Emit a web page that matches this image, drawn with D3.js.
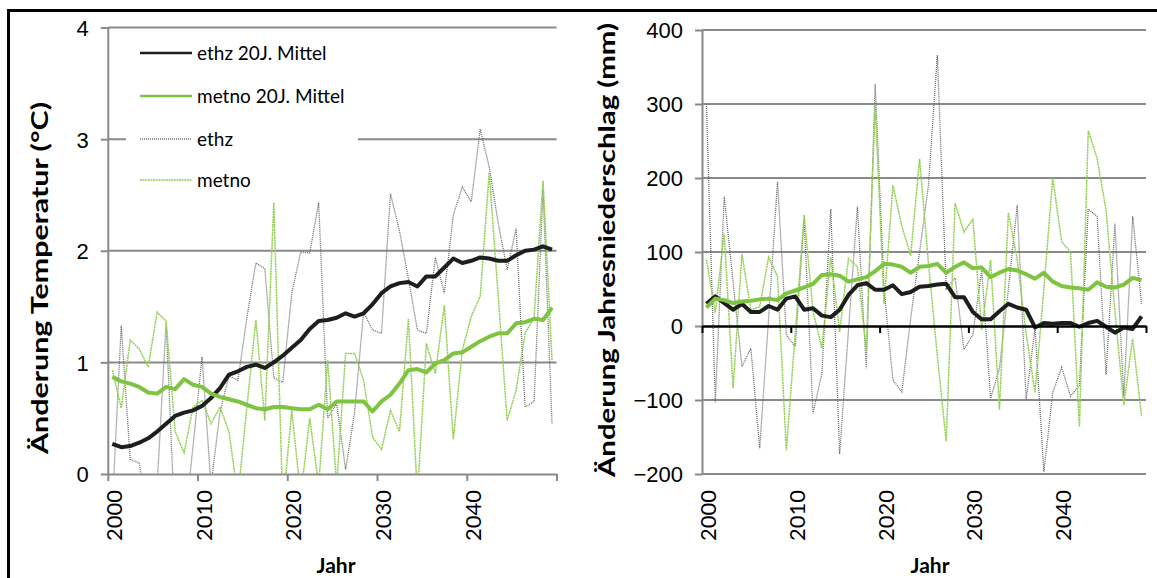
<!DOCTYPE html>
<html>
<head>
<meta charset="utf-8">
<script src="https://cdn.jsdelivr.net/npm/d3@7"></script>
<style>
  body { margin: 0; background: #fff; }
  svg { display: block; font-family: Lato, "Open Sans", sans-serif; }
</style>
</head>
<body>
<div id="chart"></div>
<script>
// categories
const years = d3.range(2000, 2050);
const yearTicks = [2000, 2010, 2020, 2030, 2040, 2050];
const yearLabels = [2000, 2010, 2020, 2030, 2040];
const tempTicks = [0, 1, 2, 3, 4];
const precTicks = [-200, -100, 0, 100, 200, 300, 400];
const seriesNames = ["ethz 20J. Mittel", "metno 20J. Mittel", "ethz", "metno"];

// temperature change (°C)
const tempEthz = [-0.3, 1.33, 0.13, 0.10, -0.4, -0.1, 1.36, -0.5, -0.5, 0.25,
  1.05, -0.1, 0.55, 0.88, 0.84, 1.4, 1.89, 1.84, 0.86, 0.82,
  1.62, 1.99, 1.98, 2.43, 0.5, 0.63, 0.04, 0.55, 1.45, 1.29,
  1.26, 2.51, 2.18, 1.75, 1.29, 1.26, 1.94, 1.62, 2.32, 2.57,
  2.44, 3.09, 2.75, 2.25, 1.83, 2.2, 0.6, 0.65, 2.55, 0.45];
const tempMetno = [0.93, 0.59, 1.2, 1.12, 0.96, 1.45, 1.37, 0.38, 0.19, 0.6,
  0.66, 0.45, 0.6, 0.38, -0.2, 0.6, 1.38, 0.48, 2.43, -0.3,
  0.57, -0.2, 0.5, -0.1, 1.02, -0.1, 1.08, 1.08, 0.84, 0.33,
  0.22, 0.57, 0.38, 1.39, -0.2, 1.17, 0.9, 1.51, 0.31, 1.11,
  1.41, 1.59, 2.7, 1.6, 0.48, 0.75, 1.26, 1.4, 2.63, 1.02];
const tempEthzMean = [0.27, 0.24, 0.25, 0.28, 0.32, 0.38, 0.45, 0.52, 0.55, 0.57,
  0.61, 0.68, 0.77, 0.89, 0.92, 0.96, 0.98, 0.95, 1.0, 1.06,
  1.13, 1.2, 1.3, 1.37, 1.38, 1.4, 1.44, 1.41, 1.44, 1.52,
  1.62, 1.68, 1.71, 1.72, 1.68, 1.77, 1.77, 1.85, 1.93, 1.89,
  1.91, 1.94, 1.93, 1.91, 1.91, 1.96, 2.0, 2.01, 2.04, 2.01];
const tempMetnoMean = [0.87, 0.83, 0.81, 0.78, 0.73, 0.72, 0.78, 0.76, 0.85, 0.8,
  0.78, 0.72, 0.69, 0.67, 0.65, 0.62, 0.59, 0.58, 0.6, 0.6,
  0.59, 0.58, 0.58, 0.62, 0.58, 0.65, 0.65, 0.65, 0.65, 0.56,
  0.65, 0.71, 0.81, 0.93, 0.94, 0.91, 0.99, 1.02, 1.08, 1.09,
  1.14, 1.19, 1.23, 1.26, 1.26, 1.35, 1.36, 1.39, 1.38, 1.49];

// precipitation change (mm)
const precEthz = [300, -103, 175, 60, -55, -30, -165, 10, 195, -12,
  -28, 145, -118, -64, 158, -173, -5, 161, -57, 327,
  50, -73, -89, 10, 100, 190, 366, 50, 65, -32,
  -12, 76, -98, -57, 50, 163, -100, -3, -197, -90,
  -56, -95, -80, 158, 148, -66, 138, -95, 148, 30];
const precMetno = [90, 18, 125, -84, 97, 22, 26, 93, 67, -168,
  -10, 150, 20, -30, 93, -8, 91, 80, -32, 300,
  30, 190, 135, 95, 226, 85, -40, -156, 166, 127,
  144, -5, 89, -113, 153, 90, -10, -90, 50, 200,
  114, 100, -136, 264, 226, 157, 20, -107, -17, -122];
const precEthzMean = [30, 40, 31, 22, 30, 19, 19, 27, 22, 37,
  40, 22, 24, 14, 12, 22, 42, 55, 58, 49,
  49, 55, 43, 46, 53, 54, 56, 57, 39, 39,
  19, 9, 9, 20, 30, 25, 22, -2, 4, 3,
  4, 4, -1, 4, 7, -1, -9, -2, -4, 13];
const precMetnoMean = [25, 37, 35, 31, 33, 34, 36, 37, 35, 44,
  48, 52, 57, 69, 70, 68, 60, 63, 66, 74,
  84, 83, 80, 72, 80, 81, 84, 72, 80, 86,
  78, 79, 66, 72, 77, 75, 70, 64, 72, 60,
  54, 52, 51, 49, 59, 53, 52, 56, 65, 62];

const w = 1157;
const h = 578;
const gridColor = "#898989";
const green = "#7fc342";
const lightGreen = "#92d050";

const styles = [
  { stroke: "#1e1e1e", width: 4, dash: null },
  { stroke: green, width: 4, dash: null },
  { stroke: "#6a6a6a", width: 1.3, dash: "1,1" },
  { stroke: lightGreen, width: 1.5, dash: "2,0.6" }
];

let svg = d3.select("#chart").append("svg")
  .attr("width", w)
  .attr("height", h);

svg.append("rect")
  .attr("width", w).attr("height", h)
  .attr("fill", "#fff");

// outer frame
svg.append("rect")
  .attr("x", 8.5).attr("y", 10.5)
  .attr("width", 1300).attr("height", 700)
  .attr("fill", "none")
  .attr("stroke", "#000")
  .attr("stroke-width", 3);

function drawPanel(p) {
  let xScale = d3.scaleLinear().domain([2000, 2050]).range([p.left, p.right]);
  let yScale = d3.scaleLinear().domain(p.domain).range([p.bottom, p.top]);
  let g = svg.append("g");

  // gridlines
  g.append("g")
    .selectAll("line")
    .data(p.ticks.filter(d => d !== p.axisAt))
    .join("line")
    .attr("x1", p.left).attr("x2", p.right)
    .attr("y1", d => yScale(d)).attr("y2", d => yScale(d))
    .attr("stroke", gridColor)
    .attr("stroke-width", 2);

  // y axis
  let yAxis = g.append("g")
    .attr("transform", "translate(" + p.left + ",0)")
    .call(d3.axisLeft(yScale).tickValues(p.ticks).tickFormat(d3.format("d"))
      .tickSize(7).tickSizeOuter(0).tickPadding(12));
  yAxis.select(".domain").attr("stroke", gridColor).attr("stroke-width", 2);
  yAxis.selectAll(".tick line").attr("stroke", gridColor).attr("stroke-width", 2);
  yAxis.selectAll("text")
    .attr("fill", "#000")
    .style("font-size", "22px")
    .attr("dy", "0.36em");

  if (p.legend) p.legend(g);

  // clip for the series
  let clipId = "clip-" + p.name;
  svg.append("clipPath").attr("id", clipId)
    .append("rect")
    .attr("x", p.left).attr("y", p.top - 2)
    .attr("width", p.right - p.left + 4)
    .attr("height", p.bottom - p.top + 3);

  let line = d3.line()
    .x((d, i) => xScale(years[i] + 0.5))
    .y(d => yScale(d));

  let lines = g.append("g").attr("clip-path", "url(#" + clipId + ")");
  [p.annual[0], p.annual[1]].forEach((s, i) => {
    let st = styles[i + 2];
    lines.append("path")
      .attr("d", line(s))
      .attr("fill", "none")
      .attr("stroke", st.stroke)
      .attr("stroke-width", st.width)
      .attr("stroke-dasharray", st.dash);
  });

  // x axis at the crossing value
  let xAxis = g.append("g")
    .attr("transform", "translate(0," + yScale(p.axisAt) + ")")
    .call(d3.axisBottom(xScale).tickValues(yearTicks).tickSize(7).tickSizeOuter(0).tickFormat(""));
  xAxis.select(".domain").attr("stroke", p.axisColor).attr("stroke-width", p.axisWidth);
  xAxis.selectAll(".tick line").attr("stroke", p.axisColor).attr("stroke-width", 2);

  [p.means[0], p.means[1]].forEach((s, i) => {
    let st = styles[i];
    lines.append("path")
      .attr("d", line(s))
      .attr("fill", "none")
      .attr("stroke", st.stroke)
      .attr("stroke-width", st.width)
      .attr("stroke-linejoin", "round");
  });

  // year labels, rotated, centred on the category
  g.append("g")
    .selectAll("text")
    .data(yearLabels)
    .join("text")
    .attr("transform", d => "translate(" + (xScale(d + 0.5) + 1) + "," + p.labelTop + ") rotate(-90)")
    .attr("text-anchor", "end")
    .attr("dominant-baseline", "central")
    .style("font-size", "22px")
    .text(d => d);

  g.append("text")
    .attr("x", p.jahrX).attr("y", 573)
    .attr("text-anchor", "middle")
    .style("font-size", "21px")
    .style("font-weight", "bold")
    .text("Jahr");

  g.append("text")
    .attr("transform", "translate(" + p.titleX + "," + p.titleY + ") rotate(-90)")
    .attr("text-anchor", "middle")
    .attr("textLength", p.titleLen)
    .attr("lengthAdjust", "spacingAndGlyphs")
    .style("font-size", "22px")
    .style("font-weight", "bold")
    .text(p.title);
}

function tempLegend(g) {
  g.append("rect")
    .attr("x", 126).attr("y", 30)
    .attr("width", 232).attr("height", 168)
    .attr("fill", "#fff");
  let rows = [53, 96, 139, 180];
  let item = g.append("g")
    .selectAll("g")
    .data(seriesNames)
    .join("g")
    .attr("transform", (d, i) => "translate(0," + rows[i] + ")");
  item.append("line")
    .attr("x1", 140).attr("x2", 192)
    .attr("stroke", (d, i) => styles[i].stroke)
    .attr("stroke-width", (d, i) => i < 2 ? 2.5 : 1.5)
    .attr("stroke-dasharray", (d, i) => styles[i].dash);
  item.append("text")
    .attr("x", 197).attr("y", 7)
    .style("font-size", "19px")
    .text(d => d);
}

drawPanel({
  name: "temp",
  left: 107.8, right: 556.5, top: 27.5, bottom: 474,
  domain: [0, 4], ticks: tempTicks, axisAt: 0,
  axisColor: gridColor, axisWidth: 2,
  annual: [tempEthz, tempMetno], means: [tempEthzMean, tempMetnoMean],
  labelTop: 490, jahrX: 336,
  title: "Änderung Temperatur (°C)", titleX: 48, titleY: 278, titleLen: 352,
  legend: tempLegend
});

drawPanel({
  name: "prec",
  left: 702, right: 1146, top: 30, bottom: 474,
  domain: [-200, 400], ticks: precTicks, axisAt: 0,
  axisColor: "#000", axisWidth: 2.5,
  annual: [precEthz, precMetno], means: [precEthzMean, precMetnoMean],
  labelTop: 490, jahrX: 930,
  title: "Änderung Jahresniederschlag  (mm)", titleX: 615, titleY: 250, titleLen: 454
});
</script>
</body>
</html>
